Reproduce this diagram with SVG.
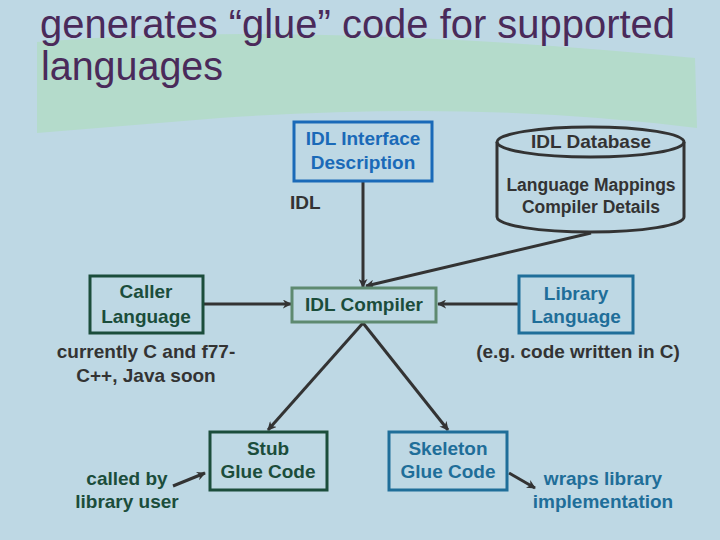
<svg xmlns="http://www.w3.org/2000/svg" width="720" height="540" viewBox="0 0 720 540">
<defs>
<marker id="ah" viewBox="0 0 10 10" refX="9" refY="5" markerWidth="9" markerHeight="9" markerUnits="userSpaceOnUse" orient="auto">
<path d="M0,0 L10,5 L0,10 L3,5 Z" fill="#333"/>
</marker>
<style>
.t{font-family:"Liberation Sans",Arial,sans-serif;font-weight:bold;font-size:19px;text-anchor:middle}
.s{font-size:17.5px}
.box{fill:none;stroke-width:3}
.c{fill:none;stroke:#333;stroke-width:3;marker-end:url(#ah)}
.dk{fill:#333}
.gr{fill:#1b4d3b}
.bl{fill:#1a6ab8}
.tl{fill:#1f6e99}
</style>
</defs>
<rect width="720" height="540" fill="#bed8e4"/>
<path d="M37,42 Q300,20 695,58 L697,128 Q480,100 220,118 L37,133 Z" fill="#b4dbcb"/>
<g id="title" font-family="'Liberation Sans',Arial,sans-serif" font-size="40" fill="#4a2a5a">
<text x="40" y="38" textLength="635" lengthAdjust="spacingAndGlyphs">generates “glue” code for supported</text>
<text x="41" y="80" textLength="182" lengthAdjust="spacingAndGlyphs">languages</text>
</g>
<g id="connectors">
<line class="c" x1="363" y1="181" x2="363" y2="287"/>
<line class="c" x1="591" y1="233" x2="366" y2="286"/>
<line class="c" x1="519" y1="304" x2="438" y2="304"/>
<line class="c" x1="203" y1="304" x2="291" y2="304"/>
<line class="c" x1="363" y1="323" x2="268" y2="430"/>
<line class="c" x1="363" y1="323" x2="448" y2="430"/>
<line class="c" x1="173" y1="486" x2="205" y2="473"/>
<line class="c" x1="509" y1="473" x2="535" y2="488"/>
</g>
<g id="idl-interface">
<rect class="box" x="294" y="122" width="138" height="59" stroke="#1a6ab8"/>
<text class="t bl" x="363" y="145">IDL Interface</text>
<text class="t bl" x="363" y="169">Description</text>
</g>
<g id="idl-database">
<path d="M497,142 L497,217 A93.5,15 0 0 0 684,217 L684,142" fill="none" stroke="#333" stroke-width="3"/>
<ellipse cx="590.5" cy="142" rx="93.5" ry="15" fill="none" stroke="#333" stroke-width="3"/>
<text class="t dk" x="591" y="148">IDL Database</text>
<text class="t dk s" x="591" y="191">Language Mappings</text>
<text class="t dk s" x="591" y="213">Compiler Details</text>
</g>
<g id="idl-label">
<text class="t dk" x="290" y="209" style="text-anchor:start">IDL</text>
</g>
<g id="caller">
<rect class="box" x="90" y="276" width="113" height="57" stroke="#1b4d3b"/>
<text class="t gr" x="146" y="298">Caller</text>
<text class="t gr" x="146" y="323">Language</text>
</g>
<g id="idl-compiler">
<rect class="box" x="292" y="288" width="144" height="34" stroke="#5e8a70"/>
<text class="t gr" x="364" y="311">IDL Compiler</text>
</g>
<g id="library">
<rect class="box" x="519" y="276" width="114" height="57" stroke="#1f6e99"/>
<text class="t tl" x="576" y="300">Library</text>
<text class="t tl" x="576" y="323">Language</text>
</g>
<g id="caller-note">
<text class="t dk" x="146" y="358">currently C and f77-</text>
<text class="t dk" x="146" y="382">C++, Java soon</text>
</g>
<g id="library-note">
<text class="t dk" x="578" y="358">(e.g. code written in C)</text>
</g>
<g id="stub">
<rect class="box" x="210" y="432" width="117" height="58" stroke="#1b4d3b"/>
<text class="t gr" x="268" y="455">Stub</text>
<text class="t gr" x="268" y="478">Glue Code</text>
</g>
<g id="skeleton">
<rect class="box" x="389" y="432" width="118" height="58" stroke="#1f6e99"/>
<text class="t tl" x="448" y="455">Skeleton</text>
<text class="t tl" x="448" y="478">Glue Code</text>
</g>
<g id="stub-note">
<text class="t gr" x="127" y="485">called by</text>
<text class="t gr" x="127" y="508">library user</text>
</g>
<g id="skeleton-note">
<text class="t tl" x="603" y="485">wraps library</text>
<text class="t tl" x="603" y="508">implementation</text>
</g>
</svg>
